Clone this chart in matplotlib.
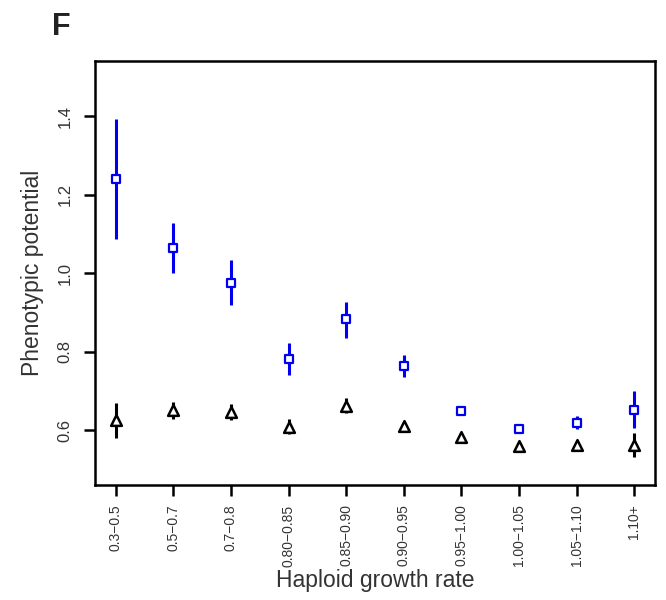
import numpy as np
import matplotlib.pyplot as plt

plt.rcParams["font.family"] = ["Liberation Sans", "DejaVu Sans"]

# Data
categories = ["0.3\u22120.5", "0.5\u22120.7", "0.7\u22120.8", "0.80\u22120.85", "0.85\u22120.90",
              "0.90\u22120.95", "0.95\u22121.00", "1.00\u22121.05", "1.05\u22121.10", "1.10+"]

blue_mean = [1.239, 1.064, 0.975, 0.781, 0.883, 0.763, 0.648, 0.603, 0.618, 0.651]
blue_lo = [1.087, 1.000, 0.918, 0.740, 0.834, 0.735, 0.640, 0.597, 0.603, 0.605]
blue_hi = [1.392, 1.128, 1.033, 0.822, 0.926, 0.791, 0.656, 0.609, 0.636, 0.700]

black_mean = [0.625, 0.651, 0.646, 0.608, 0.661, 0.610, 0.582, 0.559, 0.562, 0.562]
black_lo = [0.580, 0.628, 0.625, 0.590, 0.643, 0.600, 0.574, 0.551, 0.554, 0.531]
black_hi = [0.669, 0.671, 0.666, 0.628, 0.682, 0.620, 0.590, 0.567, 0.570, 0.592]

x = np.arange(len(categories))

fig = plt.figure(figsize=(6.66, 6.0), dpi=100)
ax = fig.add_axes([0.1426, 0.1917, 0.841, 0.7063])

# error bars as plain vertical segments
ax.vlines(x, blue_lo, blue_hi, color="#0000ee", lw=2.2, zorder=2)
ax.vlines(x, black_lo, black_hi, color="black", lw=2.2, zorder=2)

ax.scatter(x, blue_mean, marker="s", s=32, facecolors="white", edgecolors="#0000ee",
           linewidths=1.6, zorder=3)
ax.scatter(x, black_mean, marker="^", s=60, facecolors="white", edgecolors="black",
           linewidths=1.8, zorder=3)

ax.set_xlim(-0.36, 9.36)
ax.set_ylim(0.46, 1.54)

ax.set_xticks(x)
ax.set_xticklabels(categories, rotation=90, fontsize=10, color="#333333")
ax.set_yticks([0.6, 0.8, 1.0, 1.2, 1.4])
ax.set_yticklabels(["0.6", "0.8", "1.0", "1.2", "1.4"], rotation=90, va="center",
                   fontsize=12, color="#333333")
ax.tick_params(axis="both", direction="out", length=8, width=1.8, pad=6)
ax.tick_params(axis="y", pad=8)

for sp in ax.spines.values():
    sp.set_linewidth(1.8)

ax.set_xlabel("Haploid growth rate", fontsize=16.5, color="#333333", labelpad=2)
ax.set_ylabel("Phenotypic potential", fontsize=16.5, color="#333333", labelpad=10)

fig.text(0.078, 0.955, "F", fontsize=22, fontweight="bold", color="#222222",
         ha="left", va="center")

fig.savefig("out.png", dpi=100)
